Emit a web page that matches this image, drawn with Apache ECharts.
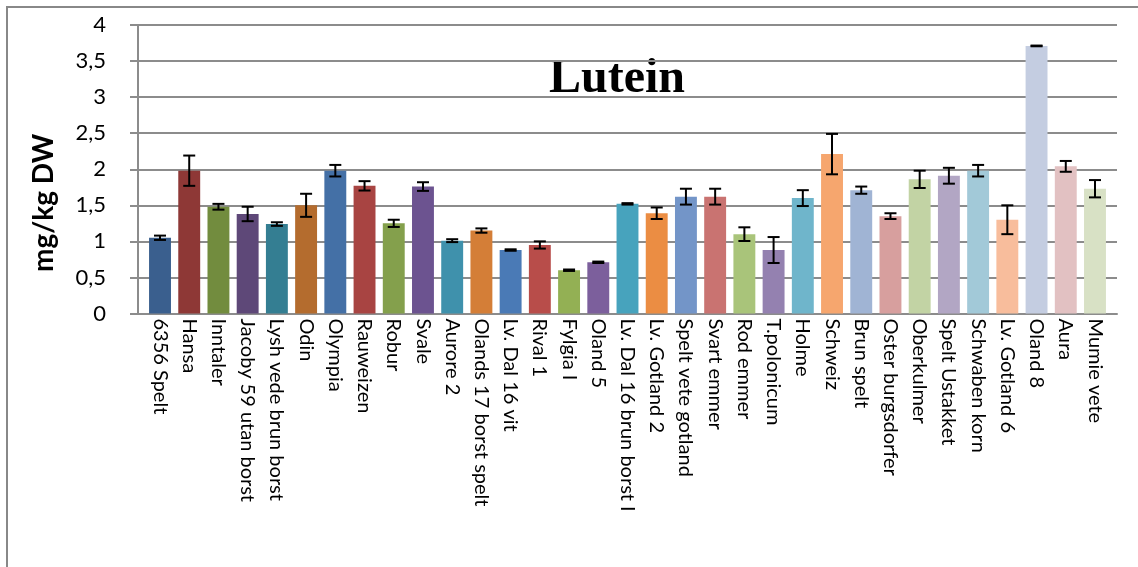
<!DOCTYPE html>
<html><head><meta charset="utf-8">
<script src="https://cdn.jsdelivr.net/npm/echarts@6/dist/echarts.min.js"></script>
<style>html,body{margin:0;padding:0;background:#fff}#c{width:1138px;height:567px}</style>
</head><body><div id="c"></div>
<script>
const categories = ['6356 Spelt','Hansa','Inntaler','Jacoby 59 utan borst','Lysh vede brun borst','Odin','Olympia','Rauweizen','Robur','Svale','Aurore 2','Olands 17 borst spelt','Lv. Dal 16 vit','Rival 1','Fylgia I','Oland 5','Lv. Dal 16 brun borst I','Lv. Gotland 2','Spelt vete gotland','Svart emmer','Rod emmer','T.polonicum','Holme','Schweiz','Brun spelt','Oster burgsdorfer','Oberkulmer','Spelt Ustakket','Schwaben korn','Lv. Gotland 6','Oland 8','Aura','Mumie vete'];
const values = [1.05,1.98,1.48,1.38,1.24,1.50,1.98,1.77,1.25,1.76,1.01,1.15,0.88,0.95,0.60,0.71,1.52,1.39,1.62,1.62,1.10,0.88,1.60,2.21,1.71,1.35,1.86,1.91,1.98,1.30,3.71,2.04,1.73];
const errors = [0.03,0.21,0.04,0.10,0.025,0.16,0.08,0.065,0.05,0.06,0.02,0.03,0.01,0.05,0.01,0.01,0.01,0.08,0.11,0.11,0.095,0.18,0.11,0.28,0.05,0.04,0.12,0.11,0.08,0.20,0.005,0.075,0.12];
const colors = ['#3A5F8E','#8E3836','#728C3E','#5E4878','#347E92','#B46C2E','#4470A6','#A84442','#84A04C','#6C5390','#3F91AC','#D47E37','#4A7AB6','#B84D4A','#93B054','#7C5F9C','#47A3BD','#EB8D43','#7395C8','#C97371','#A9C47A','#9481B0','#6FB5CB','#F6A66E','#A0B4D4','#D79F9E','#C2D3A4','#B2A6C4','#A2C9D8','#F8BD9C','#C4CDE1','#E2C1C2','#D8E1C5'];
const yTickLabels = ['0','0,5','1','1,5','2','2,5','3','3,5','4'];
const chartTitle = 'Lutein';
const yTitle = 'mg/kg DW';

const chart = echarts.init(document.getElementById('c'), null, {renderer:'canvas'});
const barData = values.map((v,i)=>({value:v,itemStyle:{color:colors[i]}}));
const errData = values.map((v,i)=>[i, v-errors[i], v+errors[i]]);
const grid0 = {left:138, right:21, top:25, bottom:253.5};
const grid1 = {left:145.4, right:28.4, top:25, bottom:253.5};
const fontUI = 'Lato, "Open Sans", sans-serif';
chart.setOption({
  backgroundColor:'#fff',
  animation:false,
  graphic:[
    {type:'rect', shape:{x:7,y:7,width:1150,height:600}, style:{fill:'none',stroke:'#888',lineWidth:2}, z:-1},
    {type:'text', x:617, y:80, style:{text:chartTitle, font:'bold 48px "Liberation Serif", serif', fill:'#000', textAlign:'center', textVerticalAlign:'middle'}},
    {type:'text', x:44, y:203, rotation:Math.PI/2, style:{text:yTitle, font:'bold 28px '+fontUI, fill:'#000', textAlign:'center', textVerticalAlign:'middle'}}
  ],
  grid:[grid0, grid1],
  xAxis:[
    {gridIndex:0, type:'value', min:0, max:1, show:true, axisLine:{show:true,lineStyle:{color:'#8c8c8c',width:2}}, axisTick:{show:false}, axisLabel:{show:false}, splitLine:{show:false}},
    {gridIndex:1, type:'category', data:categories, axisLine:{show:false}, axisTick:{show:false}, splitLine:{show:false},
     axisLabel:{rotate:-90, interval:0, margin:5, color:'#000', fontSize:20, fontFamily:fontUI}}
  ],
  yAxis:[
    {gridIndex:0, type:'value', min:0, max:4, interval:0.5,
     axisLine:{show:true,lineStyle:{color:'#8c8c8c',width:2}},
     axisTick:{show:true,length:8,lineStyle:{color:'#8c8c8c',width:2}},
     splitLine:{show:true,lineStyle:{color:'#8c8c8c',width:2}},
     axisLabel:{margin:32, color:'#000', fontSize:22, fontFamily:fontUI, formatter:(v)=>yTickLabels[Math.round(v/0.5)]}},
    {gridIndex:1, type:'value', min:0, max:4, interval:0.5, show:false}
  ],
  series:[
    {type:'bar', xAxisIndex:1, yAxisIndex:1, data:barData, barCategoryGap:'25%', z:3},
    {type:'custom', xAxisIndex:1, yAxisIndex:1, data:errData, z:5,
     renderItem:function(params, api){
       const i = api.value(0);
       const lo = api.coord([i, api.value(1)]);
       const hi = api.coord([i, api.value(2)]);
       const hw = 6;
       const st = {stroke:'#000', lineWidth:2};
       return {type:'group', children:[
         {type:'line', shape:{x1:lo[0],y1:lo[1],x2:hi[0],y2:hi[1]}, style:st},
         {type:'line', shape:{x1:lo[0]-hw,y1:lo[1],x2:lo[0]+hw,y2:lo[1]}, style:st},
         {type:'line', shape:{x1:hi[0]-hw,y1:hi[1],x2:hi[0]+hw,y2:hi[1]}, style:st}
       ]};
     }}
  ]
});
</script></body></html>
